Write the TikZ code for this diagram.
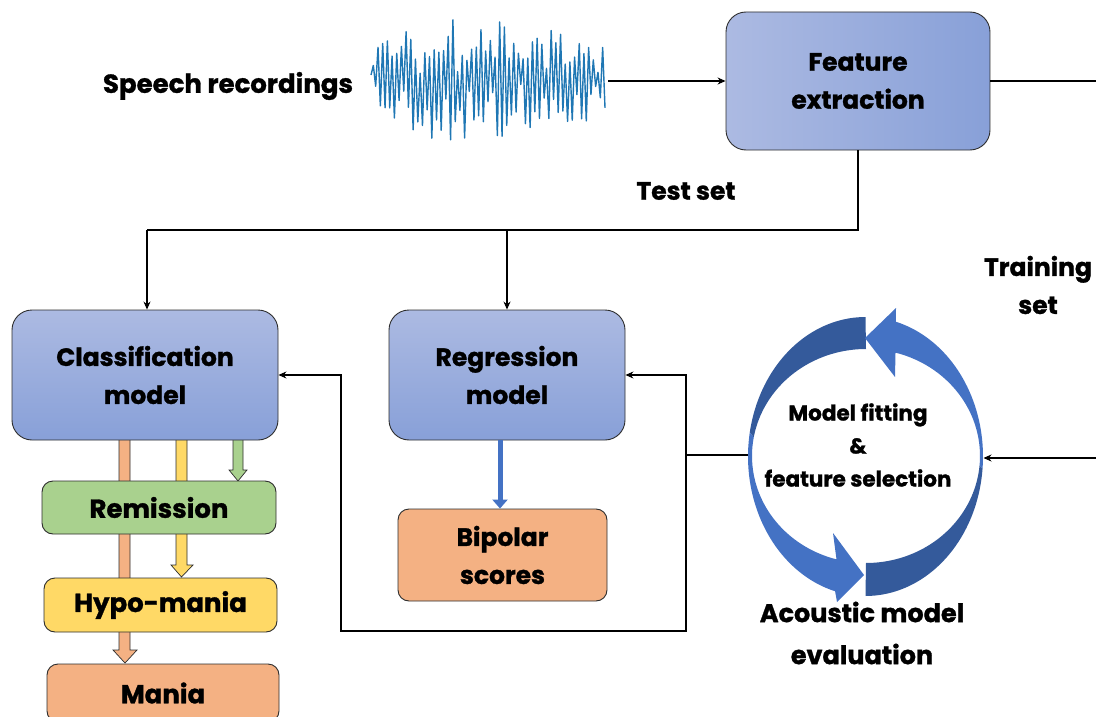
\documentclass[tikz,border=0pt]{standalone}
\usepackage{fontspec}
\setmainfont{Poppins}[BoldFeatures={FakeBold=1.2}]
\usetikzlibrary{arrows.meta}
\definecolor{boxL}{RGB}{172,186,226}
\definecolor{boxR}{RGB}{136,160,216}
\definecolor{salm}{RGB}{244,177,131}
\definecolor{remg}{RGB}{169,209,142}
\definecolor{yel}{RGB}{255,217,102}
\definecolor{wave}{RGB}{31,119,180}
\definecolor{cycL}{RGB}{68,114,196}
\definecolor{cycD}{RGB}{52,90,155}
\definecolor{edge}{RGB}{45,45,45}
\begin{document}
\begin{tikzpicture}[x=1pt,y=-1pt,
  txt/.style={font=\bfseries\fontsize{25}{38}\selectfont, align=center, inner sep=0pt},
  bigbox/.style={draw=edge, line width=0.9pt, rounded corners=20pt, txt},
  smallbox/.style={draw=edge, line width=0.9pt, rounded corners=11pt, txt},
  plain/.style={line width=1.1pt, draw=black},
  conn/.style={plain, -{Stealth[length=8pt,width=7pt]}},
  blockarrow/.style={draw=edge, line width=0.7pt, line join=miter}
]
\useasboundingbox (0,0) rectangle (1096,717);

% waveform
\pgfmathsetseed{5}
\draw[wave, line width=1.4pt, line join=round] (371,75)
  \foreach \i in {1,...,100} { -- ({371+\i*2.34}, {80 + (1-2*mod(\i,2))*(36+32*sin(1.8*\i))*(0.15+0.85*rnd) + 8*rand}) };
\coordinate (wv) at (608,81);

\node[txt, font=\bfseries\fontsize{26}{38}\selectfont] (sp) at (228,86) {Speech recordings};

% boxes
\node[bigbox, left color=boxL, right color=boxR, minimum width=264pt, minimum height=138pt] (fe) at (858,81) {Feature\\extraction};

% block arrows under classification
\fill[salm] (119,436) -- (130,436) -- (130,650) -- (137,650) -- (125,663) -- (113,650) -- (119,650) -- cycle;
\draw[blockarrow] (119,436) -- (119,650) -- (113,650) -- (125,663) -- (137,650) -- (130,650) -- (130,436);
\fill[yel] (176,436) -- (187,436) -- (187,565) -- (193,565) -- (181.5,577) -- (171,565) -- (176,565) -- cycle;
\draw[blockarrow] (176,436) -- (176,565) -- (171,565) -- (181.5,577) -- (193,565) -- (187,565) -- (187,436);
\fill[remg] (233,436) -- (243,436) -- (243,470) -- (247,470) -- (238,481) -- (229,470) -- (233,470) -- cycle;
\draw[blockarrow] (233,436) -- (233,470) -- (229,470) -- (238,481) -- (247,470) -- (243,470) -- (243,436);

\node[bigbox, top color=boxL, bottom color=boxR, minimum width=266pt, minimum height=130pt] (cm) at (145,375) {Classification\\model};
\node[bigbox, top color=boxL, bottom color=boxR, minimum width=236pt, minimum height=130pt] (rm) at (507,375) {Regression\\model};

\node[smallbox, fill=remg, minimum width=234pt, minimum height=53pt, font=\bfseries\fontsize{26}{38}\selectfont] (rem) at (159,507.5) {Remission};
\node[smallbox, fill=yel, minimum width=233pt, minimum height=54pt, font=\bfseries\fontsize{26}{38}\selectfont] (hyp) at (160.5,605) {Hypo-mania};
\node[smallbox, fill=salm, minimum width=232pt, minimum height=58pt, font=\bfseries\fontsize{26}{38}\selectfont] (man) at (163,693) {Mania};
\node[smallbox, fill=salm, minimum width=209pt, minimum height=92pt] (bs) at (502.5,555) {Bipolar\\scores};

% blue arrow regression -> bipolar
\draw[cycL, line width=5pt, -{Triangle[length=9pt,width=15pt]}] ([xshift=-7pt]rm.south) -- ([xshift=-2.5pt]bs.north);

% labels
\node[txt] (ts) at (686,191) {Test set};
\node[txt] (tr) at (1038,285) {Training\\set};
\node[txt, font=\bfseries\fontsize{21.5}{33}\selectfont] (mf) at (858,445) {Model fitting\\\&\\feature selection};
\node[txt, font=\bfseries\fontsize{25.5}{42}\selectfont] (ae) at (862,633) {Acoustic model\\evaluation};

% circular arrows
\fill[cycD] plot[domain=90:170,samples=40] ({865.5+117.5*cos(\x)},{456.5-139.5*sin(\x)})
  -- plot[domain=170:90,samples=40] ({866+114*cos(\x)},{456-107*sin(\x)}) -- cycle;
\fill[cycL] plot[domain=170:255,samples=40] ({865.5+117.5*cos(\x)},{456.5-139.5*sin(\x)})
  -- (837,602) -- (864,575) -- (833,533)
  -- plot[domain=255:170,samples=40] ({866+114*cos(\x)},{456-107*sin(\x)}) -- cycle;
\fill[cycD] plot[domain=-90:-5,samples=40] ({865.5+117.5*cos(\x)},{456.5-139.5*sin(\x)})
  -- plot[domain=-5:-90,samples=40] ({866+114*cos(\x)},{456-107*sin(\x)}) -- cycle;
\fill[cycL] plot[domain=-5:75,samples=40] ({865.5+117.5*cos(\x)},{456.5-139.5*sin(\x)})
  -- (896,308) -- (865,338) -- (895,377)
  -- plot[domain=75:-5,samples=40] ({866+114*cos(\x)},{456-107*sin(\x)}) -- cycle;
\coordinate (cycW) at (748,455);
\coordinate (cycE) at (983.5,458);

% connectors
\draw[conn] (wv) -- (fe.west);
\coordinate (re1) at (1096,81);
\draw[plain] (fe.east) -- (re1);
\coordinate (tl) at (147,230);
\coordinate (tm) at (507,230);
\draw[plain] (fe.south) |- (tl);
\draw[conn] (tl) -- (tl |- cm.north);
\draw[conn] (tm) -- (rm.north);
\coordinate (re2) at (1096,458);
\draw[conn] (re2) -- (cycE);
\coordinate (fb1) at (686,455);
\coordinate (fb2) at (686,631);
\coordinate (fb3) at (341,631);
\draw[plain] (cycW) -- (fb1);
\draw[conn] (fb1) |- (rm.east);
\draw[conn] (fb1) -- (fb2) -- (fb3) |- (cm.east);
\end{tikzpicture}
\end{document}
